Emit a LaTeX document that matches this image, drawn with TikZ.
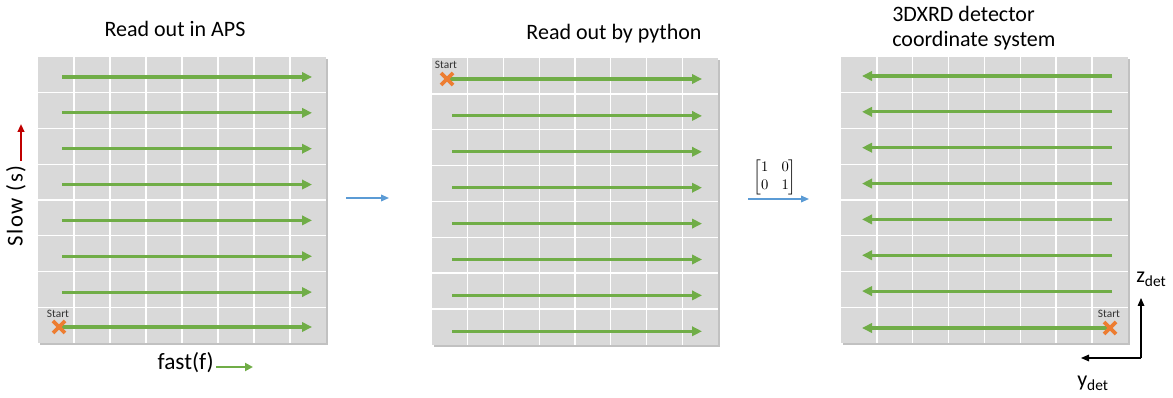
\documentclass[tikz,border=0pt]{standalone}
\usepackage{fontspec}
\setmainfont{Carlito}
\usepackage{amsmath}
\usetikzlibrary{arrows.meta,shadows,calc}
\definecolor{gridgray}{HTML}{D9D9D9}
\definecolor{ogreen}{HTML}{70AD47}
\definecolor{oorange}{HTML}{ED7D31}
\definecolor{oblue}{HTML}{5B9BD5}
\definecolor{ored}{HTML}{C00000}
\tikzset{
  panelbox/.style={fill=gridgray, draw=none, drop shadow={shadow xshift=1.3pt, shadow yshift=-1.3pt, opacity=0.35, fill=black!70}},
  gridline/.style={white, line width=1.1pt},
  scanarrow/.style={ogreen, line width=2.3pt, -{Triangle[length=7.5pt,width=7pt]}},
  startx/.style={oorange, line width=2.7pt},
  startlabel/.style={font=\fontsize{8.5}{10}\selectfont, text=black!80, inner sep=0pt},
  title/.style={font=\fontsize{16.5}{20}\selectfont, inner sep=0pt},
  flow/.style={oblue, line width=1.1pt, -{Triangle[length=6pt,width=5pt]}},
  slowarrow/.style={ored, line width=1.4pt, -{Triangle[length=6pt,width=5pt]}},
  fastarrow/.style={ogreen, line width=2pt, -{Triangle[length=6pt,width=6pt]}},
  axisarrow/.style={black, line width=0.8pt, -{Triangle[length=6pt,width=5pt]}},
}
\begin{document}
\begin{tikzpicture}[x=0.75pt,y=-0.75pt]
\useasboundingbox (0,0) rectangle (1173,398);

% ---------- panel 1 ----------
\begin{scope}[shift={(38,57)}]
  \fill[panelbox] (0,0) rectangle (288,286);
  \foreach \i in {1,...,7} {
    \draw[gridline] (\i*36,0) -- (\i*36,286);
    \draw[gridline] (0,\i*35.75) -- (288,\i*35.75);
  }
  \foreach \k in {0,...,6} {
    \draw[scanarrow] (24,20+\k*35.85) -- (274,20+\k*35.85);
  }
  \coordinate (x1) at (21,270);
  \coordinate (e1) at (274,270);
  \draw[scanarrow] (x1) -- (e1);
  \draw[startx] ($(x1)+(-6,-6)$) -- ($(x1)+(6,6)$) ($(x1)+(-6,6)$) -- ($(x1)+(6,-6)$);
  \node[startlabel] (s1) at (20,257) {Start};
\end{scope}

% ---------- panel 2 ----------
\begin{scope}[shift={(432,58)}]
  \fill[panelbox] (0,0) rectangle (286,287);
  \foreach \i in {1,...,7} {
    \draw[gridline] (\i*35.75,0) -- (\i*35.75,287);
    \draw[gridline] (0,\i*35.85) -- (286,\i*35.85);
  }
  \foreach \k in {1,...,7} {
    \draw[scanarrow] (20,22+\k*35.9) -- (270,22+\k*35.9);
  }
  \coordinate (x2) at (15,21);
  \coordinate (e2) at (270,21);
  \draw[scanarrow] (x2) -- (e2);
  \draw[startx] ($(x2)+(-6,-6)$) -- ($(x2)+(6,6)$) ($(x2)+(-6,6)$) -- ($(x2)+(6,-6)$);
  \node[startlabel] (s2) at (14,7) {Start};
\end{scope}

% ---------- panel 3 ----------
\begin{scope}[shift={(841,57)}]
  \fill[panelbox] (0,0) rectangle (287,286);
  \foreach \i in {1,...,7} {
    \draw[gridline] (\i*35.85,0) -- (\i*35.85,286);
    \draw[gridline] (0,\i*35.75) -- (287,\i*35.75);
  }
  \foreach \k in {0,...,6} {
    \draw[scanarrow] (271,19+\k*35.85) -- (21,19+\k*35.85);
  }
  \coordinate (x3) at (269,271);
  \coordinate (e3) at (21,271);
  \draw[scanarrow] (x3) -- (e3);
  \draw[startx] ($(x3)+(-6,-6)$) -- ($(x3)+(6,6)$) ($(x3)+(-6,6)$) -- ($(x3)+(6,-6)$);
  \node[startlabel] (s3) at (268,257) {Start};
\end{scope}

% ---------- titles ----------
\node[title, anchor=base] (t1) at (175,37) {Read out in APS};
\node[title, anchor=base] (t2) at (614,40) {Read out by python};
\node[title, anchor=base west] (t3a) at (892,22) {3DXRD detector};
\node[title, anchor=base west] (t3b) at (892,47) {coordinate system};

% ---------- slow / fast ----------
\node[title, font=\fontsize{17}{20}\selectfont\addfontfeature{LetterSpace=7}, rotate=90] (slow) at (16,206) {Slow (s)};
\coordinate (sa) at (21,161);
\coordinate (sb) at (21,124);
\draw[slowarrow] (sa) -- (sb);
\node[title, font=\fontsize{17.5}{20}\selectfont, anchor=base east] (fast) at (214,370) {fast(f)};
\coordinate (fa) at (216,367);
\coordinate (fb) at (253,367);
\draw[fastarrow] (fa) -- (fb);

% ---------- transforms ----------
\coordinate (a1) at (346,198);
\coordinate (b1) at (389,198);
\draw[flow] (a1) -- (b1);
\node[font=\fontsize{11}{13}\selectfont, inner sep=0pt] (mat) at (775,177) {$\begin{bmatrix}1 & 0\\ 0 & 1\end{bmatrix}$};
\coordinate (a2) at (748,199);
\coordinate (b2) at (809,199);
\draw[flow] (a2) -- (b2);

% ---------- detector axes ----------
\coordinate (org) at (1141,358);
\coordinate (zend) at (1141,298);
\coordinate (yend) at (1081,358);
\draw[axisarrow] (org) -- (zend);
\draw[axisarrow] (org) -- (yend);
\node[title, anchor=base west] (zlab) at (1136,283) {z\textsubscript{det}};
\node[title, anchor=base west] (ylab) at (1077,387) {y\textsubscript{det}};
\end{tikzpicture}
\end{document}
